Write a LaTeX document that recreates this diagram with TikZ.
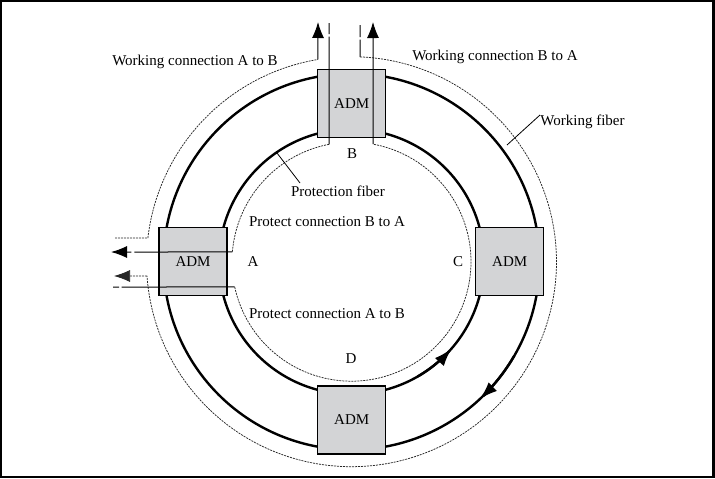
\documentclass[tikz,border=0pt]{standalone}
\usepackage{fontspec}
\setmainfont{Liberation Serif}
\usetikzlibrary{arrows.meta,calc}
\definecolor{admgray}{RGB}{211,212,214}
\begin{document}
\begin{tikzpicture}[x=1pt,y=-1pt,
  fiber/.style={line width=2.4pt},
  adm/.style={draw, line width=1.1pt, fill=admgray, minimum width=68pt, minimum height=68pt, inner sep=0pt, font=\fontsize{15}{18}\selectfont},
  dotline/.style={line width=0.75pt, dash pattern=on 2pt off 1pt, draw=black!85},
  conn/.style={line width=1pt},
  tip/.style={-{Latex[length=16pt,width=12pt]}},
  ftip/.style={-{Latex[length=18pt,width=12pt]}},
  lbl/.style={font=\fontsize{15}{18}\selectfont, inner sep=0pt, anchor=base},
  leader/.style={line width=0.8pt},
]
\useasboundingbox (0,0) rectangle (715,479);
\draw[line width=2.2pt] (1.1,1.1) rectangle (713.4,477.2);

\coordinate (O) at (351.5,261.7);

% fibers
\draw[fiber] (O) circle[radius=188];
\draw[fiber] (O) circle[radius=132.5];
\draw[fiber, ftip] plot[domain=60:41, samples=12] ({351.5+132.5*cos(\x)},{261.7+132.5*sin(\x)});
\draw[fiber, ftip] plot[domain=30:47, samples=12] ({351.5+188*cos(\x)},{261.7+188*sin(\x)});

% working connection A to B (outer, left)
\coordinate (wabS) at (115,238);
\coordinate (wab1) at ($(O)+({205*cos(-173.36)},{205*sin(-173.36)})$);
\coordinate (wab2) at ($(O)+({205*cos(-99.41)},{205*sin(-99.41)})$);
\coordinate (wabE) at (318,22);
\draw[dotline] (wabS) -- (wab1);
\draw[dotline] plot[domain=-173.36:-99.41, samples=60] ({351.5+205*cos(\x)},{261.7+205*sin(\x)});
\draw[conn, tip] (wab2) -- (wabE);

% working connection B to A (outer, right and bottom)
\coordinate (wbaS) at (360,25);
\coordinate (wba1) at ($(O)+({205*cos(-87.62)},{205*sin(-87.62)})$);
\coordinate (wba2) at ($(O)+({205*cos(176.0)},{205*sin(176.0)})$);
\coordinate (wbaE) at (114,276);
\draw[conn, dash pattern=on 12pt off 2.5pt on 60pt] (wbaS) -- (wba1);
\draw[dotline] plot[domain=-87.62:176.0, samples=160] ({351.5+205*cos(\x)},{261.7+205*sin(\x)});
\draw[dotline, tip] (wba2) -- (wbaE);

% protect connection B to A (inner, left)
\coordinate (pbaS) at (329,23);
\coordinate (pba1) at ($(O)+({119.5*cos(-100.85)},{119.5*sin(-100.85)})$);
\coordinate (pba2) at ($(O)+({119.5*cos(-175.34)},{119.5*sin(-175.34)})$);
\coordinate (pbaE) at (111,252);
\draw[dotline] plot[domain=-100.85:-175.34, samples=50] ({351.5+119.5*cos(\x)},{261.7+119.5*sin(\x)});

% protect connection A to B (inner, bottom and right)
\coordinate (pabS) at (113,287);
\coordinate (pab1) at ($(O)+({119.5*cos(167.78)},{119.5*sin(167.78)})$);
\coordinate (pab2) at ($(O)+({119.5*cos(-79.63)},{119.5*sin(-79.63)})$);
\coordinate (pabE) at (373,22);
\draw[dotline] plot[domain=167.78:-79.63, samples=150] ({351.5+119.5*cos(\x)},{261.7+119.5*sin(\x)});

% ADM boxes
\node[adm] (admB) at (351.7,103.5) {ADM};
\node[adm] (admA) at (193,261.4) {ADM};
\node[adm] (admC) at (509.7,261.5) {ADM};
\node[adm] (admD) at (351.7,420) {ADM};

% lines through the boxes
\draw[conn, dash pattern=on 11pt off 2.5pt on 200pt] (pbaS) -- (pba1);
\draw[conn, tip, dash pattern=on 98pt off 3pt on 100pt] (pba2) -- (pbaE);
\draw[conn, dash pattern=on 6pt off 2.5pt on 200pt] (pabS) -- (pab1);
\draw[conn, tip] (pab2) -- (pabE);

% labels
\node[lbl] (twab) at (195,65) {Working connection A to B};
\node[lbl] (twba) at (495,60) {Working connection B to A};
\node[lbl] (twf) at (582.5,125) {Working fiber};
\node[lbl] (tpf) at (338,196) {Protection fiber};
\node[lbl] (tpba) at (327,226) {Protect connection B to A};
\node[lbl] (tpab) at (327,318) {Protect connection A to B};
\node[lbl] (lA) at (253,266) {A};
\node[lbl] (lB) at (352,158) {B};
\node[lbl] (lC) at (458,266) {C};
\node[lbl] (lD) at (351,363) {D};

% leaders
\coordinate (wfL) at (507,145);
\coordinate (wfT) at (540,115);
\draw[leader] (wfL) -- (wfT);
\coordinate (pfL) at (277,153);
\coordinate (pfT) at (300,183);
\draw[leader] (pfL) -- (pfT);
\end{tikzpicture}
\end{document}
